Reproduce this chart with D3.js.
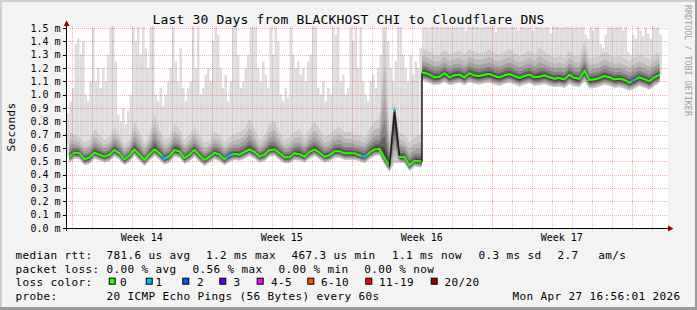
<!DOCTYPE html>
<html>
<head>
<meta charset="utf-8">
<script src="https://cdn.jsdelivr.net/npm/d3@7"></script>
<style>
html, body { margin: 0; padding: 0; background: #f3f3f3; }
svg { display: block; }
text { font-family: "DejaVu Sans Mono", monospace; fill: #000; }
.lg { font-size: 11px; letter-spacing: 0.38px; }
</style>
</head>
<body>
<svg id="chart" width="697" height="310"></svg>
<script>
// グラフのデータ (単位: ms、6時間ごとのビン)
var title = 'Last 30 Days from BLACKHOST CHI to Cloudflare DNS';
var startTime = Date.UTC(2026, 2, 28, 18, 20);
var binHours = 6;

var yTicks = [0.0, 0.1, 0.2, 0.3, 0.4, 0.5, 0.6, 0.7, 0.8, 0.9, 1.0, 1.1, 1.2, 1.3, 1.4, 1.5];
var weekLabels = ['Week 14', 'Week 15', 'Week 16', 'Week 17'];
var weekStarts = ['2026-03-29', '2026-04-05', '2026-04-12', '2026-04-19'];

// median rtt
var median = [
  .535,
  .565, .56, .515, .53,  .565, .55, .535, .55,  .585, .56, .515, .545,  .59, .55, .51, .555,
  .59, .56, .52, .54,  .585, .575, .525, .55,  .585, .545, .51, .535,  .565, .55, .515, .545,
  .555, .55, .57, .59,  .57, .535, .55, .585,  .59, .56, .53, .53,  .56, .555, .535, .57,
  .59, .565, .535, .545,  .575, .575, .56, .56,  .56, .545, .535, .565,  .59, .595, .525, .465,
  .88, .535, .53, .47, .505, .5,
  1.165, 1.15, 1.13, 1.135, 1.16, 1.13, 1.145, 1.15, 1.13, 1.16, 1.145, 1.14,
  1.15, 1.155, 1.14, 1.13, 1.145, 1.155, 1.14, 1.125, 1.14, 1.15, 1.13, 1.135, 1.145, 1.13, 1.12, 1.125,
  1.115, 1.15, 1.125, 1.12, 1.18, 1.11, 1.115, 1.125, 1.14, 1.13, 1.115, 1.12, 1.11, 1.09, 1.11, 1.13, 1.115, 1.1, 1.13, 1.15,
  null
];

// 最小ping
var lowPing = [
  .49, .52, .515, .47, .48, .52, .505, .49, .5, .535, .51, .47, .495, .54, .5, .465, .505,
  .54, .51, .475, .49, .535, .525, .48, .5, .535, .495, .465, .49, .515, .5, .47, .495,
  .51, .505, .52, .54, .52, .49, .5, .535, .54, .51, .485, .485, .51, .505, .49, .52,
  .54, .515, .49, .5, .525, .525, .51, .51, .51, .5, .485, .515, .54, .545, .475, .42,
  .49, .49, .485, .425, .46, .455,
  1.1, 1.085, 1.07, 1.075, 1.095, 1.07, 1.08, 1.09, 1.07, 1.095, 1.08, 1.075,
  1.085, 1.09, 1.075, 1.065, 1.08, 1.09, 1.075, 1.06, 1.075, 1.085, 1.065, 1.07, 1.08, 1.065, 1.055, 1.06,
  1.05, 1.08, 1.06, 1.055, 1.1, 1.045, 1.05, 1.06, 1.075, 1.065, 1.05, 1.055, 1.045, 1.03, 1.045, 1.065, 1.05, 1.035, 1.065, 1.085,
  null
];

// 上側の濃い煙 (90% ping 付近)
var upPing = [
  .72, .7, .68, .64, .66, .74, .7, .66, .68, .76, .7, .63, .66, .8, .72, .64, .7,
  .86, .74, .66, .68, .78, .74, .66, .7, .76, .7, .64, .66, .72, .7, .64, .68,
  .7, .72, .74, .82, .74, .66, .7, .78, .8, .72, .66, .68, .72, .74, .68, .74,
  .8, .74, .68, .7, .74, .76, .72, .72, .7, .7, .68, .74, .8, .82, 1.5, .7,
  .95, .72, .7, .64, .68, .7,
  1.34, 1.32, 1.3, 1.3, 1.34, 1.3, 1.32, 1.33, 1.3, 1.34, 1.32, 1.31,
  1.32, 1.34, 1.31, 1.3, 1.32, 1.34, 1.31, 1.29, 1.31, 1.33, 1.3, 1.36, 1.32, 1.3, 1.28, 1.29,
  1.28, 1.33, 1.29, 1.29, 1.4, 1.27, 1.28, 1.29, 1.32, 1.3, 1.28, 1.29, 1.27, 1.25, 1.28, 1.3, 1.28, 1.26, 1.3, 1.32,
  null
];

// 最大ping (3時間ごと)
var maxPing = [
  .86, .95, 1.05, 1.38, 1.42, 1.3, 1.4, 1.0, .95, 1.1, 1.5, 1.1, 1.2, 1.05, 1.2, 1.1,
  1.3, 1.55, 1.55, 1.25, .85, .8, .9, .78, .88, 1.0, 1.55, 1.4, 1.55, 1.3, 1.55, 1.35, 1.2,
  1.55, 1.55, 1.0, .95, 1.05, .92, 1.0, 1.1, 1.2, 1.55, 1.25, 1.1, 1.35, 1.05, .95, 1.05, 1.1,
  1.55, 1.2, 1.55, 1.0, 1.05, 1.15, 1.2, 1.1, 1.4, 1.55, 1.45, 1.2, 1.05, 1.15, .95, 1.1,
  1.55, 1.55, 1.3, 1.05, 1.1, 1.2, 1.3, 1.55, 1.55, 1.55, 1.2, 1.1, 1.25, 1.15, 1.05,
  1.55, 1.3, 1.55, 1.4, 1.0, .95, 1.05, .98, 1.55, 1.3, 1.2, 1.25, 1.15, 1.2, 1.1, 1.25,
  1.3, 1.55, 1.55, 1.05, 1.0, 1.1, .95, 1.05, 1.0, 1.55, 1.45, 1.55, 1.1, 1.15, 1.0, 1.05, 1.55, 1.4,
  1.55, 1.2, 1.55, 1.1, 1.0, .95, 1.1, 1.15, 1.05, 1.2, 1.3, 1.55, 1.55, 1.4, 1.2, 1.1, 1.25,
  1.55, 1.55, 1.3, 1.2, 1.1, 1.3, 1.15, 1.25, 1.2, 1.35,
  1.55, 1.55, 1.5, 1.55, 1.55, 1.55, 1.52, 1.55, 1.55, 1.55, 1.55, 1.5, 1.55, 1.55, 1.55, 1.55, 1.55, 1.48, 1.55, 1.55,
  1.55, 1.55, 1.55, 1.5, 1.55, 1.55, 1.55, 1.55, 1.55, 1.47, 1.55, 1.55, 1.55, 1.55, 1.5, 1.55, 1.55, 1.55, 1.48, 1.55,
  1.55, 1.5, 1.55, 1.55, 1.48, 1.55, 1.55, 1.55, 1.5, 1.55, 1.55, 1.46, 1.55, 1.55, 1.55, 1.5, 1.55, 1.55,
  1.55, 1.55, 1.5, 1.55, 1.55, 1.55, 1.55, 1.45, 1.42, 1.55, 1.48, 1.55, 1.55, 1.38, 1.35, 1.45,
  1.55, 1.55, 1.5, 1.55, 1.55, 1.55, 1.48, 1.55, 1.32, 1.3, 1.45, 1.42, 1.55, 1.48, 1.44, 1.55, 1.46, 1.42, 1.55, 1.5, 1.55, 1.45,
  null, null
];

// パケットロスのあったビン
var lossBins = [19, 32, 59, 65, 113];
var lossCounts = [1, 1, 1, 1, 1];

var lossLevels = ['0', '1', '2', '3', '4-5', '6-10', '11-19', '20/20'];
var lossColors = ['#26ff00', '#00b8ff', '#0059ff', '#5e00ff', '#ff00ff', '#ff5500', '#ff0000', '#a00000'];
var rttStats = ['781.6 us avg', '1.2 ms max', '467.3 us min', '1.1 ms now', '0.3 ms sd', '2.7', 'am/s'];
var lossStats = ['0.00 % avg', '0.56 % max', '0.00 % min', '0.00 % now'];
var probeText = '20 ICMP Echo Pings (56 Bytes) every 60s';
var dateText = 'Mon Apr 27 16:56:01 2026';

var W = 697, H = 310;
var HOUR = 3600e3;
var svg = d3.select('#chart');

// 背景と枠
svg.append('rect').attr('width', W).attr('height', H).attr('fill', '#f3f3f3');
svg.append('rect').attr('width', W).attr('height', 2).attr('fill', '#cfcfcf');
svg.append('rect').attr('width', 2).attr('height', H).attr('fill', '#cfcfcf');
svg.append('rect').attr('x', W - 2).attr('width', 2).attr('height', H).attr('fill', '#9b9b9b');
svg.append('rect').attr('y', H - 3).attr('width', W).attr('height', 3).attr('fill', '#9b9b9b');

var x = d3.scaleUtc()
  .domain([new Date(startTime), new Date(startTime + 30 * 24 * HOUR)])
  .range([67, 667]);
var y = d3.scaleLinear().domain([0, 1.5]).range([228, 28]);

svg.append('rect').attr('x', 67).attr('y', 27).attr('width', 601).attr('height', 201).attr('fill', '#fff');

svg.append('clipPath').attr('id', 'clip')
  .append('rect').attr('x', 67).attr('y', 27).attr('width', 600).attr('height', 201);
var plot = svg.append('g').attr('clip-path', 'url(#clip)');

var lossOf = {};
lossBins.forEach(function(b, k) { lossOf[b] = lossCounts[k]; });

var bins = median.map(function(m, i) {
  return { i: i, t: new Date(startTime + (i + 0.5) * binHours * HOUR), med: m, lo: lowPing[i], up: upPing[i],
           loss: lossOf[i] || 0 };
});

// 段差 (ロスなしで大きく変わる所) は縦に切り替える
function isStep(a, b) {
  return a.med != null && b.med != null && Math.abs(a.med - b.med) > 0.3 && !a.loss && !b.loss;
}
var pts = [];
bins.forEach(function(d, i) {
  pts.push({ px: x(d.t), d: d });
  var n = bins[i + 1];
  if (n && isStep(d, n)) {
    var mx = (x(d.t) + x(n.t)) / 2;
    pts.push({ px: mx, d: d });
    pts.push({ px: mx, d: n });
  }
});

// 最大ping の薄い煙
var maxCols = maxPing.map(function(v, j) {
  return { v: v, j: j, med: median[Math.floor(j / 2)] };
}).filter(function(d) { return d.v != null && d.med != null; });

plot.selectAll('rect.max')
  .data(maxCols)
  .enter()
  .append('rect')
  .attr('class', 'max')
  .attr('x', function(d) { return x(new Date(startTime + d.j * 3 * HOUR)); })
  .attr('width', function(d) {
    return x(new Date(startTime + (d.j + 1) * 3 * HOUR)) - x(new Date(startTime + d.j * 3 * HOUR));
  })
  .attr('y', function(d) { return y(d.v); })
  .attr('height', function(d) { return y(d.med) - y(d.v); })
  .attr('fill', '#dddddd');

// 煙の層 (外側から内側へ濃くなる)
var layers = [
  { fa: 1.0,  fb: 1.0,  c: '#cdcdcd' },
  { fa: 0.7,  fb: 0.85, c: '#b9b9b9' },
  { fa: 0.48, fb: 0.7,  c: '#a0a0a0' },
  { fa: 0.3,  fb: 0.55, c: '#838383' },
  { fa: 0.17, fb: 0.4,  c: '#626262' },
  { fa: 0.08, fb: 0.25, c: '#404040' }
];
layers.forEach(function(L) {
  var area = d3.area()
    .defined(function(p) { return p.d.med != null; })
    .x(function(p) { return p.px; })
    .y0(function(p) { return y(p.d.med - (p.d.med - p.d.lo) * L.fb); })
    .y1(function(p) { return y(p.d.med + (p.d.up - p.d.med) * L.fa); });
  plot.append('path').datum(pts).attr('d', area).attr('fill', L.c);
});

// グリッド
var grid = svg.append('g');
d3.utcDay.range(x.domain()[0], x.domain()[1]).forEach(function(day) {
  var major = day.getUTCDay() === 0;
  var px = Math.round(x(day)) + 0.5;
  grid.append('line')
    .attr('x1', px).attr('x2', px).attr('y1', 26).attr('y2', 231)
    .attr('stroke', major ? 'rgba(255,0,0,0.33)' : 'rgba(120,120,120,0.32)')
    .attr('stroke-dasharray', '1,1');
});
yTicks.forEach(function(v) {
  var py = Math.round(y(v)) + 0.5;
  if (v > 0) {
    grid.append('line')
      .attr('x1', 64).attr('x2', 668).attr('y1', py).attr('y2', py)
      .attr('stroke', 'rgba(255,0,0,0.33)')
      .attr('stroke-dasharray', '1,1');
  }
  grid.append('line')
    .attr('x1', 63).attr('x2', 66).attr('y1', py).attr('y2', py)
    .attr('stroke', '#000');
});

// median 線: 各ビンが前後の半区間を自分のロス色で描く。大きな段差は黒。
var segs = [];
for (var i = 0; i < bins.length - 1; i++) {
  var a = bins[i], b = bins[i + 1];
  if (a.med == null || b.med == null) continue;
  var mx = (x(a.t) + x(b.t)) / 2;
  if (isStep(a, b)) {
    segs.push({ p: [[x(a.t), y(a.med)], [mx, y(a.med)]], c: lossColors[a.loss], w: 2 });
    segs.push({ p: [[mx, y(a.med)], [mx, y(b.med)]], c: '#1c1c1c', w: 1.5 });
    segs.push({ p: [[mx, y(b.med)], [x(b.t), y(b.med)]], c: lossColors[b.loss], w: 2 });
    continue;
  }
  var jump = Math.abs(a.med - b.med) > 0.1;
  var mid = [mx, (y(a.med) + y(b.med)) / 2];
  segs.push({ p: [[x(a.t), y(a.med)], mid], c: jump ? '#1c1c1c' : lossColors[a.loss], w: jump ? 1.5 : 2 });
  segs.push({ p: [mid, [x(b.t), y(b.med)]], c: jump ? '#1c1c1c' : lossColors[b.loss], w: jump ? 1.5 : 2 });
}
plot.selectAll('path.med')
  .data(segs)
  .enter()
  .append('path')
  .attr('class', 'med')
  .attr('d', function(d) { return d3.line()(d.p); })
  .attr('fill', 'none')
  .attr('stroke', function(d) { return d.c; })
  .attr('stroke-width', function(d) { return d.w; })
  .attr('stroke-linecap', 'round');

plot.selectAll('line.loss')
  .data(bins.filter(function(d) { return d.loss > 0; }))
  .enter()
  .append('line')
  .attr('x1', function(d) { return x(d.t) - 1.5; })
  .attr('x2', function(d) { return x(d.t) + 1.5; })
  .attr('y1', function(d) { return y(d.med); })
  .attr('y2', function(d) { return y(d.med); })
  .attr('stroke', function(d) { return lossColors[d.loss]; })
  .attr('stroke-width', 2);

// 軸
svg.append('line').attr('x1', 66.5).attr('x2', 66.5).attr('y1', 231).attr('y2', 24).attr('stroke', '#000');
svg.append('line').attr('x1', 63).attr('x2', 670).attr('y1', 228.5).attr('y2', 228.5).attr('stroke', '#000');
svg.append('path').attr('d', 'M66.6,20.5L69.5,26L63.7,26Z').attr('fill', '#990000');
svg.append('path').attr('d', 'M673.5,228.5L668,225.6L668,231.4Z').attr('fill', '#990000');

// 軸ラベル
svg.selectAll('text.ytick')
  .data(yTicks)
  .enter()
  .append('text')
  .attr('x', 60.5)
  .attr('y', function(d) { return y(d) + 3.6; })
  .attr('text-anchor', 'end')
  .style('font-size', '10px')
  .text(function(d) { return d3.format('.1f')(d) + ' m'; });

svg.selectAll('text.week')
  .data(weekLabels)
  .enter()
  .append('text')
  .attr('x', function(d, i) { return x(new Date(Date.parse(weekStarts[i] + 'T00:00:00Z') + 3.5 * 24 * HOUR)); })
  .attr('y', 241)
  .attr('text-anchor', 'middle')
  .style('font-size', '10px')
  .text(function(d) { return d; });

svg.append('text')
  .attr('x', 348.5).attr('y', 24)
  .attr('text-anchor', 'middle')
  .style('font-size', '13px').style('letter-spacing', '0.17px')
  .text(title);

svg.append('text')
  .attr('class', 'lg')
  .attr('transform', 'translate(14.5,127) rotate(-90)')
  .attr('text-anchor', 'middle')
  .text('Seconds');

svg.append('text')
  .attr('transform', 'translate(685,5) rotate(90)')
  .style('font-size', '8.4px').style('fill', '#a0a0a0')
  .text('RRDTOOL / TOBI OETIKER');

// 凡例
var lg = svg.append('g').attr('class', 'lg');
function put(str, px, py) {
  lg.append('text').attr('x', px).attr('y', py).text(str);
}
put('median rtt:', 15.4, 259.3);
[106.4, 206, 291.5, 392, 478.6, 557.6, 598.2].forEach(function(px, i) { put(rttStats[i], px, 259.3); });
put('packet loss:', 15.4, 272.6);
[106.4, 192.6, 278.6, 364.3].forEach(function(px, i) { put(lossStats[i], px, 272.6); });
put('loss color:', 15.4, 286);
var boxX = [108.7, 145.7, 182.3, 219.3, 256.7, 307.3, 365.3, 430.7];
var labelX = [120, 155.5, 197, 233.6, 271, 321, 379, 444.6];
lossLevels.forEach(function(lv, i) {
  lg.append('rect')
    .attr('x', boxX[i] + 0.5).attr('y', 278.2).attr('width', 6).attr('height', 6)
    .attr('fill', lossColors[i]).attr('stroke', '#000').attr('stroke-width', 1);
  put(lv, labelX[i], 286);
});
put('probe:', 15.4, 299.6);
put(probeText, 106.4, 299.6);
put(dateText, 512.5, 299.6);
</script>
</body>
</html>
